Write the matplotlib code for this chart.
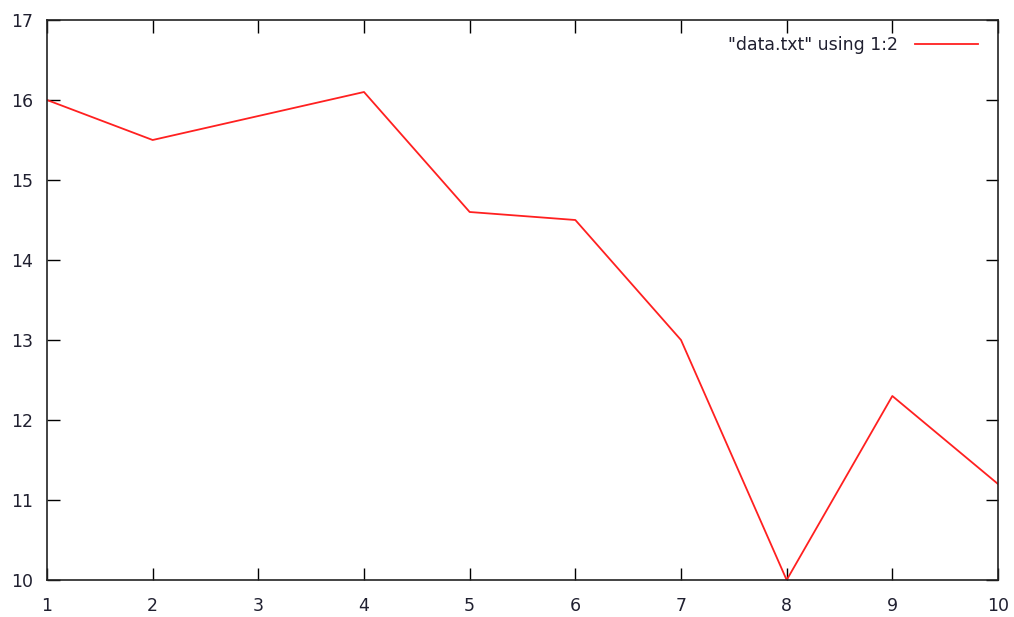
import matplotlib
matplotlib.use("Agg")
import matplotlib.pyplot as plt

x_values = [1, 2, 3, 4, 5, 6, 7, 8, 9, 10]
y_values = [16.0, 15.5, 15.8, 16.1, 14.6, 14.5, 13.0, 10.0, 12.3, 11.2]
series_label = '"data.txt" using 1:2'
x_ticks = [1, 2, 3, 4, 5, 6, 7, 8, 9, 10]
y_ticks = [10, 11, 12, 13, 14, 15, 16, 17]

plt.rcParams['font.family'] = ['DejaVu Sans']
fig = plt.figure(figsize=(10.14, 6.17), dpi=100)
ax = fig.add_axes([47/1014, 1 - 580/617, (998-47)/1014, (580-20)/617])
ax.plot(x_values, y_values, color='#ff2020', linewidth=1.3, label=series_label)
ax.set_xlim(1, 10)
ax.set_ylim(10, 17)
ax.set_xticks(x_ticks)
ax.set_yticks(y_ticks)
ax.tick_params(direction='in', length=9, width=1, top=True, right=True,
               labelsize=12.5, labelcolor='#202030', pad=12)
ax.tick_params(axis='y', pad=10)
for s in ax.spines.values():
    s.set_linewidth(1.2)
    s.set_color('#222222')
leg = ax.legend(loc='upper right', frameon=False, fontsize=12.5, handlelength=3.6,
                bbox_to_anchor=(0.995, 1.0), markerfirst=False, handletextpad=1.0)
for t in leg.get_texts():
    t.set_color('#202030')
fig.savefig('out.png', dpi=100)
